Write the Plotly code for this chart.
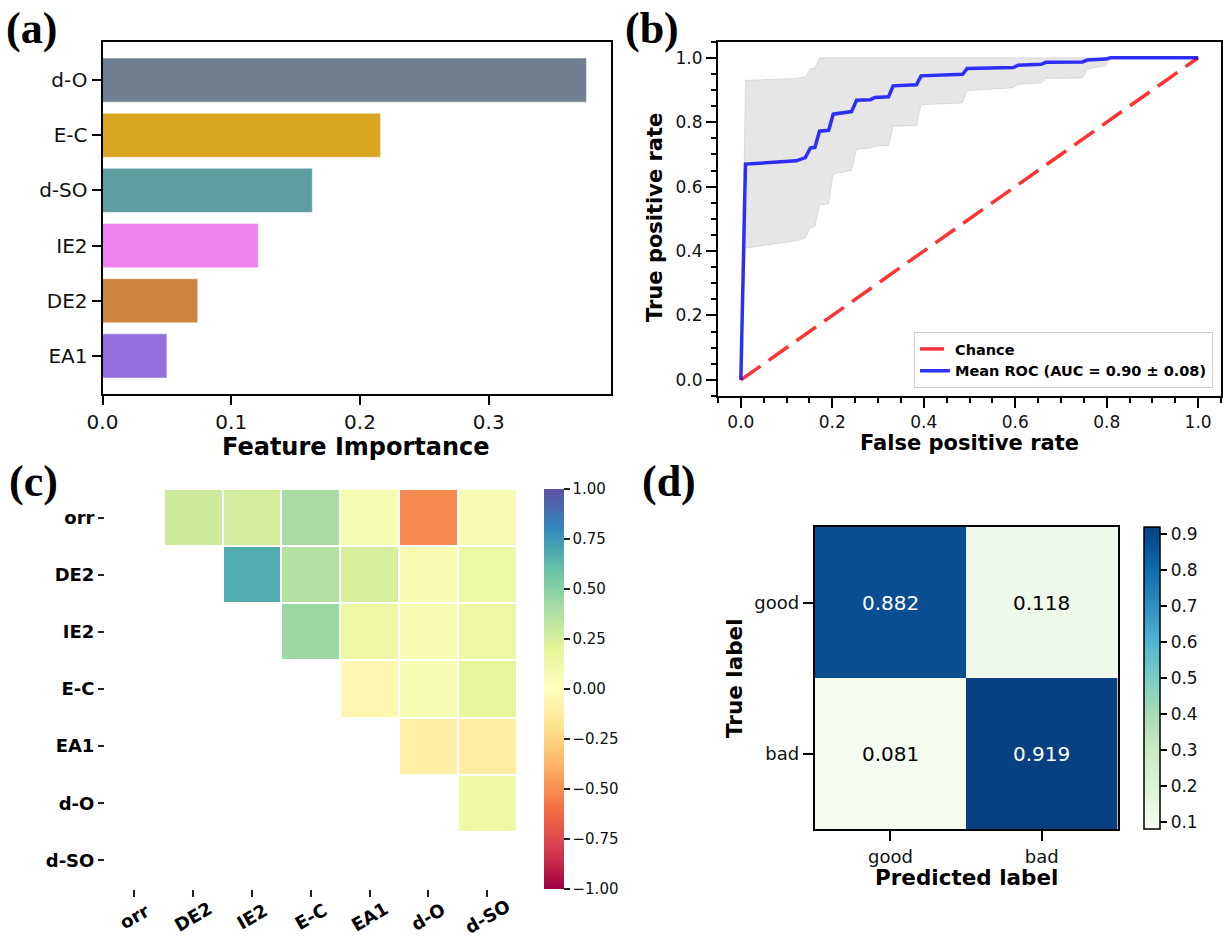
import plotly.graph_objects as go

W, H = 1225, 938
FONT = "DejaVu Sans"
SERIF = "Liberation Serif"

# ---------------- (a) feature importance ----------------
features = ["d-O", "E-C", "d-SO", "IE2", "DE2", "EA1"]
importance = [0.376, 0.216, 0.163, 0.121, 0.074, 0.050]
bar_colors = ["#708090", "#DAA520", "#5F9EA0", "#EE82EE", "#CD853F", "#9370DB"]

# ---------------- (b) mean ROC with +/- 1 std band ----------------
fpr = [0.0, 0.010, 0.121, 0.141, 0.152, 0.162, 0.172, 0.192, 0.202, 0.222,
       0.242, 0.253, 0.283, 0.293, 0.323, 0.333, 0.384, 0.394, 0.485, 0.495,
       0.596, 0.606, 0.657, 0.667, 0.747, 0.758, 0.798, 0.808, 1.0]
mean_tpr = [0.0, 0.670, 0.680, 0.690, 0.720, 0.722, 0.772, 0.775, 0.825, 0.830,
            0.833, 0.868, 0.870, 0.877, 0.879, 0.913, 0.916, 0.944, 0.949, 0.967,
            0.970, 0.977, 0.980, 0.986, 0.987, 0.993, 0.996, 1.0, 1.0]
tpr_lower = [0.0, 0.409, 0.432, 0.440, 0.473, 0.476, 0.543, 0.546, 0.639, 0.645,
             0.650, 0.716, 0.720, 0.725, 0.728, 0.787, 0.790, 0.854, 0.860, 0.898,
             0.907, 0.918, 0.922, 0.936, 0.937, 0.965, 0.975, 1.0, 1.0]
tpr_upper = [0.0, 0.930, 0.936, 0.942, 0.966, 0.968, 1.0, 1.0, 1.0, 1.0,
             1.0, 1.0, 1.0, 1.0, 1.0, 1.0, 1.0, 1.0, 1.0, 1.0,
             1.0, 1.0, 1.0, 1.0, 1.0, 1.0, 1.0, 1.0, 1.0]
auc_mean, auc_std = 0.90, 0.08
chance_x = [0, 1]
chance_y = [0, 1]

# ---------------- (c) correlation (upper triangle) ----------------
corr_labels = ["orr", "DE2", "IE2", "E-C", "EA1", "d-O", "d-SO"]
corr_orr = [0.29, 0.27, 0.41, 0.07, -0.51, 0.06]
corr_de2 = [0.68, 0.37, 0.25, 0.06, 0.15]
corr_ie2 = [0.44, 0.14, 0.06, 0.14]
corr_ec = [-0.06, 0.07, 0.19]
corr_ea1 = [-0.10, -0.12]
corr_do = [0.13]
corr_dso = []
corr_rows = [corr_orr, corr_de2, corr_ie2, corr_ec, corr_ea1, corr_do, corr_dso]

# ---------------- (d) normalized confusion matrix ----------------
cm_labels = ["good", "bad"]
cm_values = [[0.882, 0.118],
             [0.081, 0.919]]

SPECTRAL = ["#9e0142", "#d53e4f", "#f46d43", "#fdae61", "#fee08b", "#ffffbf",
            "#e6f598", "#abdda4", "#66c2a5", "#3288bd", "#5e4fa2"]
GNBU = ["#f7fcf0", "#e0f3db", "#ccebc5", "#a8ddb5", "#7bccc4", "#4eb3d3",
        "#2b8cbe", "#0868ac", "#084081"]


def scale(cols):
    n = len(cols) - 1
    return [[i / n, c] for i, c in enumerate(cols)]


def px_x(p):
    return p / W


def px_y(p):
    return 1 - p / H


# build the masked correlation matrix (only cells above the diagonal)
n = len(corr_labels)
corr_z = [[None] * n for _ in range(n)]
for i, row in enumerate(corr_rows):
    for k, v in enumerate(row):
        corr_z[i][i + 1 + k] = v

fig = go.Figure()

# (a) bars
fig.add_trace(go.Bar(
    x=importance, y=features, orientation="h", width=0.8,
    marker=dict(color=bar_colors, line=dict(color="rgba(255,255,255,0.5)", width=1)),
    xaxis="x", yaxis="y", showlegend=False,
))

# (b) ROC
fig.add_trace(go.Scatter(
    x=chance_x, y=chance_y, mode="lines", name="Chance",
    line=dict(color="rgba(255,0,0,0.8)", width=3.5, dash="24px,10px"),
    xaxis="x2", yaxis="y2",
))
fig.add_trace(go.Scatter(
    x=fpr + fpr[::-1], y=tpr_upper + tpr_lower[::-1], mode="lines",
    fill="toself", fillcolor="rgba(128,128,128,0.2)",
    line=dict(color="rgba(128,128,128,0.2)", width=1),
    xaxis="x2", yaxis="y2", showlegend=False, hoverinfo="skip",
))
fig.add_trace(go.Scatter(
    x=fpr, y=mean_tpr, mode="lines",
    name=f"Mean ROC (AUC = {auc_mean:.2f} \u00b1 {auc_std:.2f})",
    line=dict(color="rgba(0,0,255,0.8)", width=3.5),
    xaxis="x2", yaxis="y2",
))

# (c) correlation heatmap
fig.add_trace(go.Heatmap(
    z=corr_z, x=corr_labels, y=corr_labels, xgap=2, ygap=2,
    colorscale=scale(SPECTRAL), zmin=-1, zmax=1,
    xaxis="x3", yaxis="y3", hoverongaps=False,
    colorbar=dict(
        x=px_x(543.5), xanchor="left", xpad=0,
        y=px_y(489), yanchor="top", ypad=0,
        len=400 / H, lenmode="fraction", thickness=20, thicknessmode="pixels",
        outlinewidth=0,
        tickvals=[-1, -0.75, -0.5, -0.25, 0, 0.25, 0.5, 0.75, 1],
        tickformat=".2f", ticks="outside", ticklen=6, tickwidth=1.5,
        tickcolor="#222", tickfont=dict(family=FONT, size=15, color="#111"),
    ),
))

# (d) confusion matrix
fig.add_trace(go.Heatmap(
    z=cm_values, x=cm_labels, y=cm_labels,
    colorscale=scale(GNBU),
    xaxis="x4", yaxis="y4",
    colorbar=dict(
        x=px_x(1143.5), xanchor="left", xpad=0,
        y=px_y(527), yanchor="top", ypad=0,
        len=302 / H, lenmode="fraction", thickness=16, thicknessmode="pixels",
        outlinewidth=1.5, outlinecolor="black",
        tickvals=[0.1, 0.2, 0.3, 0.4, 0.5, 0.6, 0.7, 0.8, 0.9],
        tickformat=".1f", ticks="outside", ticklen=7, tickwidth=1.5,
        tickcolor="black", tickfont=dict(family=FONT, size=17, color="#111"),
    ),
))

box = dict(showline=True, mirror=True, linecolor="black", linewidth=2,
           showgrid=False, zeroline=False, ticks="outside", tickcolor="black",
           automargin=False)
plain = dict(showline=False, showgrid=False, zeroline=False, automargin=False)

annotations = []

# cell labels on the confusion matrix
lo = min(min(r) for r in cm_values)
hi = max(max(r) for r in cm_values)
for i, row in enumerate(cm_values):
    for j, v in enumerate(row):
        annotations.append(dict(
            x=cm_labels[j], y=cm_labels[i], xref="x4", yref="y4",
            text=f"{v:.3f}", showarrow=False,
            font=dict(family=FONT, size=20,
                      color="white" if v > (lo + hi) / 2 else "black"),
        ))

# rotated column labels of the correlation heatmap, centred under each tick
for lab in corr_labels:
    annotations.append(dict(
        x=lab, y=px_y(916), xref="x3", yref="paper", text=lab,
        showarrow=False, textangle=-30, xanchor="center", yanchor="middle",
        font=dict(family=FONT, size=18, color="black", weight="bold"),
    ))

# axis titles
def title(text, x, y, size, angle=0):
    annotations.append(dict(
        x=px_x(x), y=px_y(y), xref="paper", yref="paper", text=text,
        showarrow=False, textangle=angle, xanchor="center", yanchor="middle",
        font=dict(family=FONT, size=size, color="black", weight="bold"),
    ))

title("Feature Importance", 356, 447, 24)
title("False positive rate", 970, 443, 21)
title("True positive rate", 655, 218, 21, -90)
title("Predicted label", 966, 877, 21.5)
title("True label", 734, 678, 21.5, -90)

# panel letters
for letter, x, y in [("(a)", 4, 29), ("(b)", 623, 29), ("(c)", 7, 482), ("(d)", 640, 482)]:
    annotations.append(dict(
        x=px_x(x), y=px_y(y), xref="paper", yref="paper", text=letter,
        showarrow=False, xanchor="left", yanchor="middle",
        font=dict(family=SERIF, size=44, color="black", weight="bold"),
    ))

fig.update_layout(
    template="none",
    width=W, height=H, autosize=False,
    margin=dict(l=0, r=0, t=0, b=0, pad=0),
    paper_bgcolor="white", plot_bgcolor="white",
    font=dict(family=FONT, color="#111"),
    showlegend=True,
    legend=dict(
        x=px_x(1213), y=px_y(388), xanchor="right", yanchor="bottom",
        bgcolor="rgba(255,255,255,0.85)", bordercolor="#d0d0d0", borderwidth=1,
        font=dict(family=FONT, size=14.5, color="black", weight="bold"),
        itemwidth=30, tracegroupgap=0,
    ),
    # (a)
    xaxis=dict(domain=[px_x(102.5), px_x(611)], anchor="y", range=[0, 0.395],
               tickvals=[0, 0.1, 0.2, 0.3], tickformat=".1f", ticklen=9, tickwidth=2,
               tickfont=dict(family=FONT, size=20, color="#111"), **box),
    yaxis=dict(domain=[px_y(394), px_y(42)], anchor="x", type="category",
               categoryorder="array", categoryarray=features, range=[5.69, -0.69],
               ticklen=9, tickwidth=2,
               tickfont=dict(family=FONT, size=20, color="#111"), **box),
    # (b)
    xaxis2=dict(domain=[px_x(718), px_x(1221)], anchor="y2", range=[-0.05, 1.05],
                tick0=0, dtick=0.2, tickformat=".1f", ticklen=10, tickwidth=2,
                minor=dict(dtick=0.05, tick0=0, ticks="outside", ticklen=5,
                           tickwidth=1.5, tickcolor="black"),
                tickfont=dict(family=FONT, size=17, color="#111"), **box),
    yaxis2=dict(domain=[px_y(396), px_y(41.7)], anchor="x2", range=[-0.05, 1.05],
                tick0=0, dtick=0.2, tickformat=".1f", ticklen=10, tickwidth=2,
                minor=dict(dtick=0.05, tick0=0, ticks="outside", ticklen=5,
                           tickwidth=1.5, tickcolor="black"),
                tickfont=dict(family=FONT, size=17, color="#111"), **box),
    # (c)
    xaxis3=dict(domain=[px_x(105), px_x(516.7)], anchor="y3", type="category",
                showticklabels=False, ticks="outside", ticklen=7, tickwidth=2,
                tickcolor="#222", **plain),
    yaxis3=dict(domain=[px_y(889), px_y(489)], anchor="x3", type="category",
                autorange="reversed", ticks="outside", ticklen=6, tickwidth=1.5,
                tickcolor="#222",
                tickfont=dict(family=FONT, size=18, color="black", weight="bold"),
                **plain),
    # (d)
    xaxis4=dict(domain=[px_x(814.7), px_x(1117.5)], anchor="y4", type="category",
                ticklen=10, tickwidth=2,
                tickfont=dict(family=FONT, size=18, color="#111"), **box),
    yaxis4=dict(domain=[px_y(829), px_y(527)], anchor="x4", type="category",
                autorange="reversed", ticklen=10, tickwidth=2,
                tickfont=dict(family=FONT, size=18, color="#111"), **box),
    annotations=annotations,
)

fig.write_html("out.html")
